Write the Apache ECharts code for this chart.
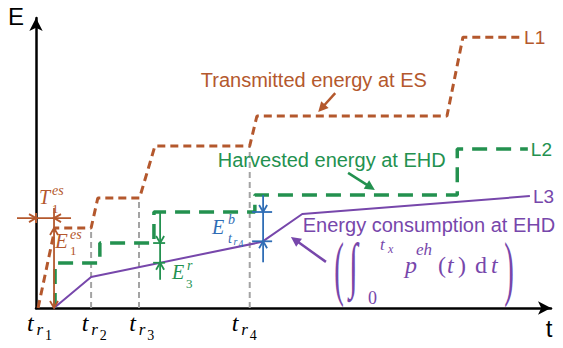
<!DOCTYPE html>
<html>
<head>
<meta charset="utf-8">
<title>Energy over time at ES and EHD</title>
<script src="https://cdn.jsdelivr.net/npm/echarts@6/dist/echarts.min.js"></script>
<style>
  html, body { margin: 0; padding: 0; background: #fff; }
  #chart { width: 563px; height: 348px; }
</style>
</head>
<body>
<div id="chart"></div>
<script>
// ---------- data (time and energy in arbitrary units, 0..100 on each axis) ----------
const eventTimes = [3.5, 10.7, 20.0, 41.5];        // t_r1 .. t_r4
const eventIndex = ['1', '2', '3', '4'];            // subscripts of the tick labels
const guideTops  = [27.6, 37.9, 55.9];              // L1 level reached at t_r2 .. t_r4

// L1: transmitted energy at ES
const l1Time   = [0.4, 3.7, 10.7, 12.0, 20.1, 23.1, 41.5, 42.9, 79.8, 82.9, 94.0];
const l1Energy = [0, 27.6, 27.6, 37.9, 37.9, 55.9, 55.9, 66.2, 66.2, 93.4, 93.4];

// L2: harvested energy at EHD
const l2Time   = [3.7, 3.7, 12.4, 12.4, 22.9, 22.9, 42.5, 42.5, 81.8, 81.8, 95.5];
const l2Energy = [0, 15.5, 15.5, 22.4, 22.4, 33.1, 33.1, 39.0, 39.0, 54.8, 54.8];

// L3: energy consumption at EHD
const l3Time   = [3.5, 10.7, 43.9, 51.7, 95.9];
const l3Energy = [0, 10.7, 22.8, 32.4, 38.6];

const e1Energy = 27.6;                 // E_1^es delivered by t_r1
const e3Gap    = [24.1, 22.4, 15.6];   // E_3^r: time, harvested level, consumed level
const ebGap    = [44.1, 33.1, 23.0];   // E^b_{t_r4}: time, harvested level, consumed level

// ---------- styling and annotation placement ----------
const COLORS = {
  l1: '#B4582D', l2: '#23914F', l3: '#7747AB', blue: '#2F6DB5',
  guide: '#A3A3A3', ink: '#000000'
};
const SANS  = '"Liberation Sans", Arial, Helvetica, sans-serif';
const SERIF = '"Liberation Serif", "Times New Roman", serif';

const T1_LEVEL = 31.0;                 // height of the T_1^es interval marker
const NOTES = [
  { text: 'Transmitted energy at ES',  color: COLORS.l1, at: [32.0, 76.2], tail: [58.1, 74.1], tip: [54.8, 67.6] },
  { text: 'Harvested energy at EHD',   color: COLORS.l2, at: [35.3, 48.6], tail: [60.6, 46.6], tip: [65.8, 40.7] },
  { text: 'Energy consumption at EHD', color: COLORS.l3, at: [51.8, 26.2], tail: [56.3, 15.9], tip: [49.5, 24.5] }
];
const TICK_LABEL_X = [-1.75, 8.9, 18.1, 38.0];
const TICK_LABEL_Y = -8.1;
const FORMULA_AT = [71.65, 12.07];

const zip = (xs, ys) => xs.map((x, i) => [x, ys[i]]);

// ---------- drawing helpers ----------
function makeKit(api, out) {
  const P = (x, y) => api.coord([x, y]);
  const line = (a, b, color, w) => out.push({
    type: 'line', shape: { x1: a[0], y1: a[1], x2: b[0], y2: b[1] },
    style: { stroke: color, lineWidth: w }
  });
  const openHead = (tip, dir, color, len = 7, half = 4, w = 1.8) => {
    const bx = tip[0] - dir[0] * len, by = tip[1] - dir[1] * len;
    const nx = -dir[1], ny = dir[0];
    out.push({
      type: 'polyline',
      shape: { points: [[bx + nx * half, by + ny * half], tip, [bx - nx * half, by - ny * half]] },
      style: { stroke: color, lineWidth: w, fill: null }
    });
  };
  const pointer = (tail, tip, color, w = 2.5, len = 10, half = 5) => {
    const dx = tip[0] - tail[0], dy = tip[1] - tail[1], L = Math.hypot(dx, dy) || 1;
    const ux = dx / L, uy = dy / L, nx = -uy, ny = ux;
    const bx = tip[0] - ux * len, by = tip[1] - uy * len;
    line(tail, [bx + ux * 2, by + uy * 2], color, w);
    out.push({
      type: 'polygon',
      shape: { points: [tip, [bx + nx * half, by + ny * half], [bx - nx * half, by - ny * half]] },
      style: { fill: color }
    });
  };
  // pieces: [text, size, dx, dy, italic] placed from a left/baseline anchor
  const glyphs = (anchor, pieces, color, family = SERIF) => pieces.forEach(([s, size, dx, dy, it]) => out.push({
    type: 'text', x: anchor[0] + dx, y: anchor[1] + dy - 0.34 * size,
    style: { text: s, font: (it ? 'italic ' : '') + size + 'px ' + family, fill: color, align: 'left', verticalAlign: 'middle' }
  }));
  // stretched delimiters: [text, size, cx, cy, scaleX, scaleY, italic] centred at the offset
  const bigGlyphs = (anchor, pieces, color) => pieces.forEach(([s, size, cx, cy, sx, sy, it]) => out.push({
    type: 'text', x: anchor[0] + cx, y: anchor[1] + cy, scaleX: sx, scaleY: sy,
    style: { text: s, font: (it ? 'italic ' : '') + size + 'px ' + SERIF, fill: color, align: 'center', verticalAlign: 'middle' }
  }));
  return { P, line, openHead, pointer, glyphs, bigGlyphs };
}

function renderGuides(params, api) {
  const out = [];
  const { P } = makeKit(api, out);
  eventTimes.slice(1).forEach((t, i) => {
    const a = P(t, 0), b = P(t, guideTops[i]);
    out.push({ type: 'line', shape: { x1: a[0], y1: a[1], x2: b[0], y2: b[1] },
               style: { stroke: COLORS.guide, lineWidth: 2, lineDash: [6, 4] } });
  });
  return { type: 'group', children: out };
}

function renderNotes(params, api) {
  const out = [];
  const { P, line, openHead, pointer, glyphs, bigGlyphs } = makeKit(api, out);

  // T_1^es: interval from the origin to t_r1
  const yT = P(0, T1_LEVEL)[1];
  const x0 = P(0, 0)[0], x1 = P(eventTimes[0], 0)[0];
  line([x0 - 19, yT], [x1 + 17, yT], COLORS.l1, 1.8);
  openHead([x0, yT], [1, 0], COLORS.l1);
  openHead([x1, yT], [-1, 0], COLORS.l1);
  line([x0, yT - 5], [x0, yT + 5], COLORS.l1, 2);
  glyphs(P(0.58, 35.86), [['T', 20, 0, 0, 1], ['es', 14, 13, -9, 1], ['1', 13, 13, 9, 0]], COLORS.l1);

  // E_1^es: energy at t_r1
  const yTop = P(0, e1Energy)[1], yBot = P(0, 0)[1];
  line([x1, yT - 10], [x1, yBot], COLORS.l1, 1.8);
  openHead([x1, yTop], [0, -1], COLORS.l1);
  openHead([x1, yBot], [0, 1], COLORS.l1);
  glyphs(P(3.69, 20.69), [['E', 21, 0, 0, 1], ['es', 14, 15, -9, 1], ['1', 13, 15, 7, 0]], COLORS.l1);

  // gap markers between harvested and consumed energy
  const gap = (g, color, upLen, downLen, left, right) => {
    const x = P(g[0], 0)[0], yHi = P(0, g[1])[1], yLo = P(0, g[2])[1];
    line([x, yHi - upLen], [x, yLo + downLen], color, 1.8);
    openHead([x, yHi], [0, 1], color, 7, 4);
    openHead([x, yLo], [0, -1], color, 7, 4);
    line([x - left, yHi], [x + right, yHi], color, 1.8);
    line([x - left, yLo], [x + right, yLo], color, 1.8);
  };
  gap(e3Gap, COLORS.l2, 30, 17, 7, 5);
  glyphs(P(26.41, 10.0), [['E', 20, 0, 0, 1], ['r', 14, 15, -9, 1], ['3', 13, 14, 9, 0]], COLORS.l2);
  gap(ebGap, COLORS.blue, 17, 21, 11, 9);
  glyphs(P(34.17, 25.52), [['E', 20, 0, 0, 1], ['b', 14, 16, -10, 1], ['t', 14, 16, 9, 1],
                           ['r', 10, 21.5, 11, 1], ['4', 10, 26.5, 13, 0]], COLORS.blue);

  // text notes with pointer arrows
  NOTES.forEach(n => {
    const a = P(n.at[0], n.at[1]);
    out.push({ type: 'text', x: a[0], y: a[1] - 0.35 * 20,
      style: { text: n.text, font: '20px ' + SANS, fill: n.color, align: 'left', verticalAlign: 'middle' } });
    pointer(P(n.tail[0], n.tail[1]), P(n.tip[0], n.tip[1]), n.color);
  });

  // consumption integral
  const f = P(FORMULA_AT[0], FORMULA_AT[1]);
  bigGlyphs(f, [['(', 24, -66, -5, 1.2, 3.0, 0], ['\u222B', 28, -51.5, -8, 1.15, 2.2, 1], [')', 24, 104, -5, 1.2, 3.0, 0]], COLORS.l3);
  glyphs(f, [['t', 17, -25, -23, 1], ['x', 12, -17, -20, 1], ['0', 18, -37, 31, 0],
             ['p', 24, 0, 0, 1], ['eh', 17, 11, -18, 1],
             ['(', 24, 33, 0, 0], ['t', 24, 42, 0, 1], [')', 24, 53, 0, 0],
             ['d', 24, 70, 0, 0], ['t', 24, 86, 0, 1]], COLORS.l3);

  // time-axis labels t_{r_i}
  eventIndex.forEach((s, i) => {
    glyphs(P(TICK_LABEL_X[i], TICK_LABEL_Y), [['t', 24, 0, 0, 1], ['r', 17, 9.5, 4, 1], [s, 14, 18, 8.5, 0]], COLORS.ink);
  });

  return { type: 'group', children: out };
}

// ---------- chart ----------
const chart = echarts.init(document.getElementById('chart'), null, { renderer: 'svg' });

const axisLine = {
  show: true, symbol: ['none', 'arrow'], symbolSize: [10, 13],
  lineStyle: { color: COLORS.ink, width: 2.5 }
};

chart.setOption({
  animation: false,
  backgroundColor: '#ffffff',
  grid: { left: 36, right: 12, top: 18, bottom: 40, containLabel: false },
  xAxis: {
    type: 'value', min: 0, max: 100,
    axisLine, axisTick: { show: false }, axisLabel: { show: false }, splitLine: { show: false },
    name: 't', nameLocation: 'end', nameGap: -2,
    nameTextStyle: { fontFamily: SANS, fontSize: 24, color: COLORS.ink, align: 'center', verticalAlign: 'top', padding: [8, 0, 0, 0] }
  },
  yAxis: {
    type: 'value', min: 0, max: 100,
    axisLine, axisTick: { show: false }, axisLabel: { show: false }, splitLine: { show: false },
    name: 'E', nameLocation: 'end', nameGap: 2,
    nameTextStyle: { fontFamily: SANS, fontSize: 24, color: COLORS.ink, align: 'right', verticalAlign: 'middle', padding: [0, 12, 0, 0] }
  },
  series: [
    { type: 'custom', name: 'guides', z: 1, clip: false, silent: true,
      renderItem: renderGuides, data: [[0, 0]] },
    { type: 'line', name: 'L1', z: 2, data: zip(l1Time, l1Energy), symbol: 'none', silent: true,
      lineStyle: { color: COLORS.l1, width: 3, type: [8, 5] },
      endLabel: { show: true, formatter: 'L1', color: COLORS.l1, fontSize: 19, fontFamily: SANS, distance: 4 } },
    { type: 'line', name: 'L2', z: 2, data: zip(l2Time, l2Energy), symbol: 'none', silent: true,
      lineStyle: { color: COLORS.l2, width: 3.5, type: [15, 9] },
      endLabel: { show: true, formatter: 'L2', color: COLORS.l2, fontSize: 19, fontFamily: SANS, distance: 3 } },
    { type: 'line', name: 'L3', z: 2, data: zip(l3Time, l3Energy), symbol: 'none', silent: true,
      lineStyle: { color: COLORS.l3, width: 2 },
      endLabel: { show: true, formatter: 'L3', color: COLORS.l3, fontSize: 19, fontFamily: SANS, distance: 3 } },
    { type: 'custom', name: 'notes', z: 3, clip: false, silent: true,
      renderItem: renderNotes, data: [[0, 0]] }
  ]
});
</script>
</body>
</html>
